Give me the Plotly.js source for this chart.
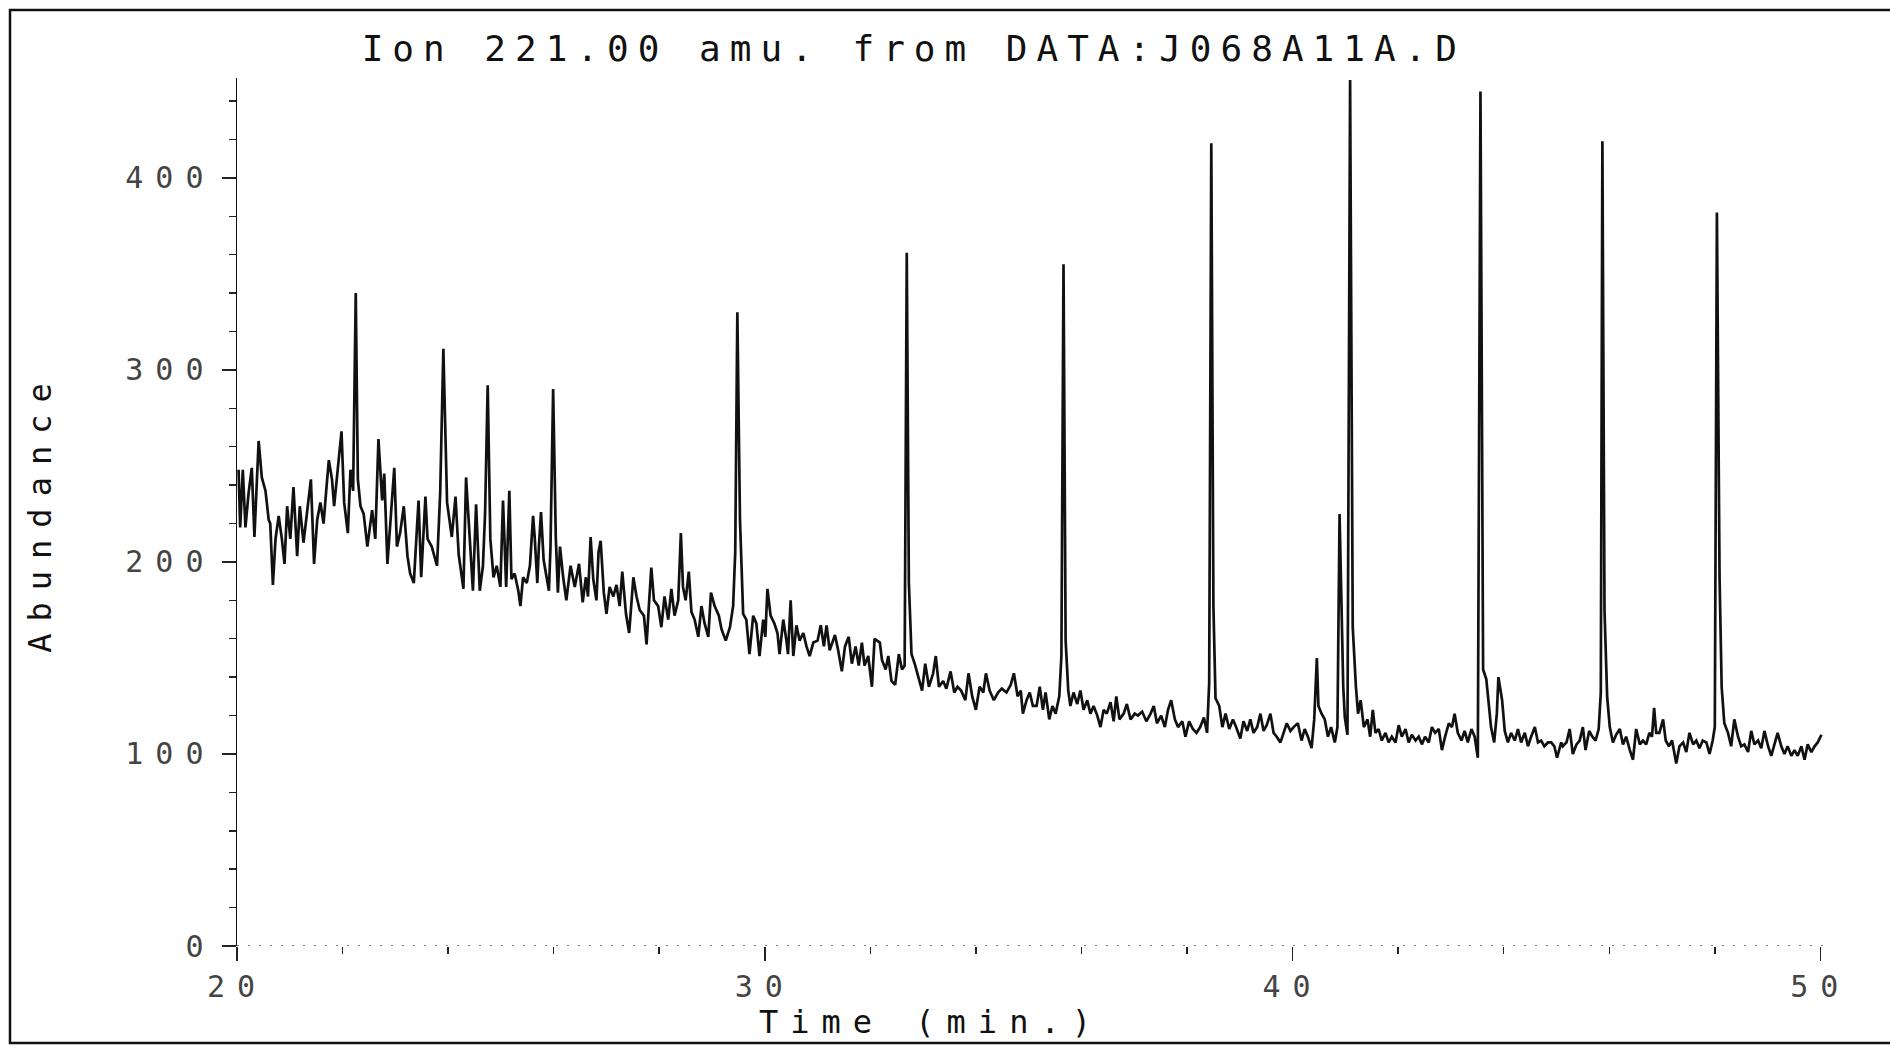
<!DOCTYPE html>
<html>
<head>
<meta charset="utf-8">
<script src="https://cdn.plot.ly/plotly-3.0.1.min.js"></script>
<style>
  html, body { margin: 0; padding: 0; background: #fff; }
  #chart { width: 1890px; height: 1048px; }
  .gtitle { letter-spacing: 9px; }
  .ytitle { letter-spacing: 12px; }
  .annotation-text { letter-spacing: 12px; }
  .xtick text, .ytick text { letter-spacing: 12px; }
</style>
</head>
<body>
<div id="chart"></div>
<script>
// ---- data (Ion 221.00 amu) ----
const chartTitle = "Ion 221.00 amu. from DATA:J068A11A.D";
const xAxisTitle = "Time (min.)";
const yAxisTitle = "Abundance";

const timeMin = [
  20.03,20.06,20.11,20.16,20.22,20.28,20.33,20.38,20.41,20.47,20.54,20.60,20.63,20.68,20.73,20.79,20.85,20.90,20.95,21.01,
  21.07,21.14,21.19,21.26,21.33,21.40,21.46,21.52,21.58,21.64,21.69,21.74,21.80,21.84,21.89,21.98,22.03,22.10,22.15,22.20,
  22.25,22.29,22.34,22.40,22.47,22.56,22.62,22.68,22.75,22.79,22.85,22.92,22.98,23.03,23.09,23.16,23.23,23.28,23.35,23.41,
  23.44,23.49,23.57,23.61,23.69,23.79,23.85,23.91,23.98,24.07,24.14,24.20,24.29,24.34,24.42,24.47,24.53,24.60,24.66,24.70,
  24.75,24.80,24.86,24.92,24.99,25.04,25.10,
  25.16,25.20,25.26,25.33,25.37,25.42,25.49,25.55,25.61,25.64,25.69,25.72,25.76,25.81,25.86,25.91,25.94,25.99,26.04,26.08,
  26.12,26.18,26.24,26.32,26.40,26.48,26.55,26.61,26.65,26.70,26.75,26.81,26.85,26.89,26.95,27.00,27.06,27.13,27.19,27.25,
  27.30,27.37,27.43,27.51,27.57,27.63,27.71,27.76,27.81,27.85,27.90,27.98,28.04,28.10,28.17,28.23,28.29,28.36,28.41,28.45,
  28.50,28.56,28.61,28.67,28.74,28.80,28.86,28.93,28.98,29.05,29.13,29.18,29.26,29.34,29.40,29.44,29.48,29.53,29.59,29.65,
  29.71,29.78,29.84,29.90,29.97,30.01,30.05,
  30.11,30.18,30.24,30.28,30.35,30.41,30.44,30.49,30.54,30.60,30.66,30.73,30.79,30.85,30.92,31.00,31.06,31.12,31.17,31.23,
  31.33,31.39,31.46,31.52,31.59,31.65,31.72,31.78,31.84,31.89,31.96,32.03,32.08,32.18,32.22,32.29,32.34,32.40,32.47,32.54,
  32.60,32.65,32.69,32.73,32.78,32.84,32.92,32.98,33.04,33.11,33.19,33.24,33.30,33.38,33.44,33.52,33.59,33.65,33.72,33.80,
  33.86,33.93,34.00,34.07,34.14,34.19,34.26,34.34,34.42,34.49,34.58,34.66,34.72,34.79,34.85,34.89,34.96,35.02,35.08,
  35.15,35.21,35.27,35.32,35.39,35.45,35.51,35.58,35.62,35.66,35.70,35.75,35.79,35.85,35.92,35.98,36.04,36.11,36.17,36.23,
  36.30,36.36,36.42,36.48,36.55,36.61,36.66,36.72,36.80,36.86,36.93,37.01,37.07,37.15,37.23,37.31,37.37,37.43,37.51,37.58,
  37.64,37.70,37.77,37.83,37.91,37.97,38.04,38.11,38.18,38.25,38.32,38.38,38.42,38.46,38.50,38.54,38.61,38.67,38.73,38.80,
  38.87,38.93,39.01,39.07,39.14,39.20,39.26,39.33,39.39,39.45,39.51,39.58,39.64,39.70,39.77,39.83,39.89,39.96,40.02,40.10,
  40.17,40.23,40.29,40.36,40.41,40.46,40.49,40.55,40.61,40.67,40.73,40.80,40.85,40.89,40.96,40.99,41.04,41.09,41.14,41.20,
  41.24,41.29,41.35,41.42,41.47,41.52,41.57,41.63,41.69,41.76,41.82,41.88,41.95,42.01,42.07,42.14,42.20,42.26,42.33,42.39,
  42.45,42.51,42.58,42.64,42.70,42.77,42.83,42.89,42.96,43.02,43.07,43.13,43.20,43.26,43.32,43.39,43.45,43.51,43.56,43.61,
  43.67,43.71,43.76,43.82,43.87,43.90,43.97,44.02,44.08,44.14,44.21,44.27,44.33,44.40,44.46,44.52,44.59,44.65,44.71,44.77,
  44.84,44.90,44.96,45.01,45.09,
  45.12,45.19,45.25,45.31,45.38,45.44,45.50,45.55,45.62,45.68,45.74,45.80,45.84,45.87,45.91,45.96,46.01,46.07,46.13,46.20,
  46.26,46.32,46.39,46.45,46.51,46.58,46.64,46.70,46.76,46.81,46.85,46.89,46.95,47.02,47.07,47.13,47.19,47.27,47.33,47.40,
  47.46,47.52,47.59,47.65,47.71,47.77,47.84,47.90,47.96,48.00,48.04,48.09,48.13,48.18,48.25,48.31,48.37,48.44,48.50,48.56,
  48.63,48.69,48.75,48.82,48.88,48.94,49.01,49.07,49.13,49.19,49.26,49.32,49.38,49.45,49.51,49.57,49.64,49.70,49.76,49.83,
  49.89,49.95,50.02
];

const abundance = [
  248,218,248,218,236,249,213,243,263,244,237,222,220,188,212,224,212,199,229,212,
  239,203,229,210,225,243,199,222,231,220,237,253,243,229,243,268,231,215,248,237,
  340,243,229,225,208,227,212,264,232,246,199,229,249,208,215,229,203,194,189,218,
  232,192,234,212,208,198,236,311,231,213,234,204,186,244,208,185,230,185,198,225,
  292,212,192,198,187,232,187,
  237,191,194,185,177,192,189,198,224,213,189,208,226,201,192,185,208,290,213,184,
  208,192,180,198,187,199,179,192,182,213,191,180,205,211,184,173,187,182,188,177,
  195,173,163,192,182,175,172,157,180,197,180,177,166,182,170,186,172,180,215,187,
  180,195,174,170,161,177,168,161,184,177,172,165,159,166,177,205,330,222,173,170,
  152,172,168,151,170,161,186,
  172,168,163,152,170,159,152,180,151,167,159,163,156,151,158,159,167,156,167,154,
  162,154,143,156,161,147,156,146,158,146,151,135,160,158,149,144,151,138,136,152,
  144,146,361,189,152,147,139,133,147,135,142,151,135,138,134,143,132,135,133,128,
  142,130,123,135,132,142,133,128,132,134,132,136,142,130,133,121,128,132,125,
  125,135,123,132,118,125,121,130,151,355,159,133,125,132,126,133,123,128,121,125,
  120,114,123,121,127,117,130,118,121,126,118,121,120,122,117,121,125,116,120,114,
  123,128,118,114,117,109,117,113,111,114,119,111,137,418,177,129,125,114,121,113,
  118,114,108,117,112,118,111,114,121,112,115,121,111,109,106,111,116,112,114,116,
  107,113,109,103,118,150,125,121,118,109,114,106,114,225,135,119,110,451,166,135,
  121,128,114,118,109,123,111,113,107,111,106,109,106,115,109,113,106,110,107,109,
  105,109,106,114,111,113,102,109,116,114,121,111,107,112,106,113,109,98,445,144,
  139,128,114,106,121,140,128,112,106,111,107,113,106,111,104,109,114,106,107,104,
  106,106,104,98,106,
  104,106,113,100,105,107,114,102,112,109,107,113,132,419,175,130,114,106,110,113,
  105,109,102,97,113,105,107,105,111,109,124,111,111,118,107,104,107,95,104,106,
  101,111,105,107,103,107,106,100,107,114,382,192,135,116,111,104,118,109,104,105,
  101,112,105,107,103,112,104,99,105,111,104,100,104,99,102,99,104,97,105,101,
  104,106,110
];

// axis settings (values only)
const xRange = [20, 50.05];
const yRange = [0, 452];
const xMajorStep = 10, xMinorStep = 2;
const yMajorStep = 100, yMinorStep = 20;

const monoFont = "'DejaVu Sans Mono', 'Liberation Mono', monospace";

const trace = {
  x: timeMin,
  y: abundance,
  type: 'scatter',
  mode: 'lines',
  line: { color: '#111111', width: 2.7 },
  hoverinfo: 'x+y'
};

const layout = {
  width: 1890,
  height: 1048,
  paper_bgcolor: '#ffffff',
  plot_bgcolor: '#ffffff',
  margin: { l: 237, r: 67, t: 78, b: 102, pad: 0 },
  showlegend: false,
  title: {
    text: chartTitle,
    font: { family: monoFont, size: 36, color: '#111111' },
    xref: 'container', x: 0.4835, xanchor: 'center',
    yref: 'container', y: 0.954, yanchor: 'middle'
  },
  xaxis: {
    range: xRange,
    showline: false,
    showgrid: false,
    zeroline: false,
    tick0: 20,
    dtick: xMajorStep,
    ticks: 'outside',
    ticklen: 14,
    tickwidth: 1.5,
    tickcolor: '#222222',
    ticklabelstandoff: 0,
    tickfont: { family: monoFont, size: 30, color: '#444444' },
    minor: { dtick: xMinorStep, tick0: 20, ticks: 'outside', ticklen: 7, tickwidth: 1.5, tickcolor: '#222222', showgrid: false }
  },
  yaxis: {
    range: yRange,
    showline: true,
    linecolor: '#111111',
    linewidth: 1.5,
    showgrid: false,
    zeroline: false,
    tick0: 0,
    dtick: yMajorStep,
    ticks: 'outside',
    ticklen: 14,
    tickwidth: 1.5,
    tickcolor: '#222222',
    ticklabelstandoff: 0,
    tickfont: { family: monoFont, size: 30, color: '#444444' },
    minor: { dtick: yMinorStep, tick0: 0, ticks: 'outside', ticklen: 7, tickwidth: 1.5, tickcolor: '#222222', showgrid: false },
    title: {
      text: yAxisTitle,
      font: { family: monoFont, size: 32, color: '#111111' },
      standoff: 64
    }
  },
  annotations: [
    {
      text: xAxisTitle,
      xref: 'paper', yref: 'paper',
      x: (925 + 6 - 237) / 1586, y: -0.087,
      xanchor: 'center', yanchor: 'middle',
      showarrow: false,
      font: { family: monoFont, size: 32, color: '#111111' }
    }
  ],
  shapes: [
    // dotted time axis baseline
    { type: 'line', xref: 'paper', yref: 'y', x0: 0, x1: 1, y0: 0, y1: 0,
      line: { color: '#555555', width: 1.5, dash: '2px,9px' } },
    // page frame (right edge runs off the page, as in the original scan)
    { type: 'rect', xref: 'paper', yref: 'paper',
      x0: (10 - 237) / 1586, x1: (1910 - 237) / 1586,
      y0: (946 - 1043) / 868, y1: (946 - 10) / 868,
      line: { color: '#111111', width: 2.5 }, fillcolor: 'rgba(0,0,0,0)', layer: 'below' }
  ]
};

Plotly.newPlot('chart', [trace], layout, { displayModeBar: false, staticPlot: true });
</script>
</body>
</html>
